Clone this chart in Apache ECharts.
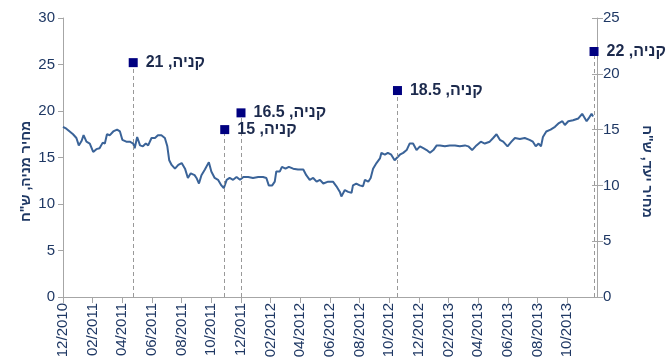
<!DOCTYPE html>
<html>
<head>
<meta charset="utf-8">
<script src="https://cdn.jsdelivr.net/npm/echarts@6/dist/echarts.min.js"></script>
<style>
html,body{margin:0;padding:0;background:#fff;}
#chart{width:672px;height:361px;}
</style>
</head>
<body>
<div id="chart" dir="rtl"></div>
<script>
// ---- data ----
const tickLabels = ['12/2010','02/2011','04/2011','06/2011','08/2011','10/2011','12/2011','02/2012','04/2012','06/2012','08/2012','10/2012','12/2012','02/2013','04/2013','06/2013','08/2013','10/2013'];

const priceDates = [
'2010-12-01','2010-12-08','2010-12-15','2010-12-22','2010-12-29',
'2011-01-03','2011-01-09','2011-01-13','2011-01-19','2011-01-26',
'2011-02-02','2011-02-08','2011-02-14','2011-02-20','2011-02-24','2011-02-28',
'2011-03-06','2011-03-13','2011-03-21','2011-03-27',
'2011-04-01','2011-04-09','2011-04-16','2011-04-23','2011-04-26',
'2011-05-01','2011-05-07','2011-05-13','2011-05-19','2011-05-24','2011-05-31',
'2011-06-07','2011-06-13','2011-06-20','2011-06-27',
'2011-07-02','2011-07-06','2011-07-11','2011-07-18','2011-07-25',
'2011-08-01','2011-08-08','2011-08-14','2011-08-20','2011-08-24','2011-08-28',
'2011-09-01','2011-09-04','2011-09-06','2011-09-11','2011-09-18','2011-09-26',
'2011-10-01','2011-10-08','2011-10-15','2011-10-22','2011-10-27',
'2011-11-02','2011-11-08','2011-11-15','2011-11-22','2011-11-29',
'2011-12-06','2011-12-16','2011-12-26',
'2012-01-06','2012-01-16','2012-01-23','2012-01-28',
'2012-02-04','2012-02-09','2012-02-12','2012-02-19','2012-02-23',
'2012-03-01','2012-03-08','2012-03-17','2012-03-27',
'2012-04-07','2012-04-13','2012-04-20','2012-04-27',
'2012-05-04','2012-05-11','2012-05-18','2012-05-28',
'2012-06-07','2012-06-14','2012-06-21','2012-06-24',
'2012-07-01','2012-07-08','2012-07-15','2012-07-18','2012-07-25',
'2012-08-01','2012-08-08','2012-08-12','2012-08-19','2012-08-24','2012-08-29',
'2012-09-05','2012-09-12','2012-09-15','2012-09-22','2012-09-28',
'2012-10-05','2012-10-12','2012-10-16','2012-10-23','2012-10-30',
'2012-11-06','2012-11-12','2012-11-19','2012-11-26',
'2012-12-03','2012-12-10','2012-12-17','2012-12-24','2012-12-31',
'2013-01-07','2013-01-14','2013-01-24',
'2013-02-03','2013-02-13','2013-02-22',
'2013-03-04','2013-03-11','2013-03-19','2013-03-28',
'2013-04-06','2013-04-14','2013-04-24',
'2013-05-01','2013-05-08','2013-05-15','2013-05-22','2013-05-31',
'2013-06-08','2013-06-15','2013-06-25',
'2013-07-05','2013-07-15','2013-07-22','2013-07-28',
'2013-08-03','2013-08-08','2013-08-12','2013-08-19','2013-08-28',
'2013-09-06','2013-09-14','2013-09-21','2013-09-26',
'2013-10-03','2013-10-13','2013-10-24',
'2013-11-01','2013-11-05','2013-11-10','2013-11-14','2013-11-20','2013-11-23'
];
const priceValues = [
18.3,18.1,17.8,17.5,17.1,
16.3,16.8,17.4,16.7,16.5,
15.6,15.9,16.0,16.6,16.5,17.5,
17.4,17.8,18.0,17.8,
16.9,16.7,16.7,16.5,16.0,
17.2,16.3,16.2,16.5,16.3,17.1,
17.1,17.4,17.4,17.1,
16.2,14.7,14.2,13.8,14.2,
14.4,13.8,12.8,13.3,13.1,13.1,
12.8,12.6,12.2,13.1,13.7,14.5,
13.5,12.8,12.6,12.0,11.7,
12.6,12.8,12.6,12.9,12.6,
12.9,12.9,12.8,
12.9,12.9,12.8,12.0,
12.0,12.4,13.5,13.5,14.0,
13.8,14.0,13.8,13.7,
13.7,13.1,12.6,12.8,
12.4,12.6,12.2,12.4,
12.4,11.9,11.3,10.8,
11.5,11.3,11.2,12.0,12.2,
12.0,11.9,12.6,12.4,12.8,13.8,
14.4,14.9,15.5,15.3,15.5,
15.3,14.7,14.5,15.3,15.5,
15.8,16.5,16.5,15.8,
16.2,16.0,15.8,15.5,15.8,
16.3,16.3,16.2,
16.3,16.3,16.2,
16.3,16.2,15.8,16.3,
16.7,16.5,16.7,
17.1,17.5,16.9,16.7,16.2,
16.7,17.1,17.0,
17.1,16.9,16.7,16.2,
16.5,16.2,17.2,17.8,18.0,
18.3,18.7,18.9,18.5,
18.9,19.0,19.2,
19.7,19.6,18.9,19.2,19.7,19.4
];

const buyDates = ['2011-04-23','2011-10-29','2011-12-01','2012-10-18','2013-11-25'];
const buyTargets = [21, 15, 16.5, 18.5, 22];
const buyWord = 'קניה';

const leftTitle = 'מחיר מניה, ש"ח';
const rightTitle = 'מחיר יעד, ש"ח';

// month index since 12/2010
function monthIndex(d){
  const p = d.split('-').map(Number);
  const dim = new Date(p[0], p[1], 0).getDate();
  return (p[0]-2010)*12 + (p[1]-12) + (p[2]-1)/dim;
}

const textColor = '#1f3864';
const axisGray = '#a6a6a6';
const font = 'Liberation Sans, Arial, sans-serif';

const chart = echarts.init(document.getElementById('chart'), null, {renderer:'canvas'});
chart.setOption({
  animation:false,
  grid:{left:63, right:75, top:18, bottom:64},
  xAxis:{
    type:'value', min:0, max:36, interval:2,
    axisLine:{lineStyle:{color:axisGray}},
    axisTick:{show:true, length:6, lineStyle:{color:axisGray}},
    splitLine:{show:false},
    axisLabel:{rotate:90, margin:6, color:textColor, fontFamily:font, fontSize:15,
      showMaxLabel:false,
      formatter:function(v){ return tickLabels[Math.round(v/2)] || ''; }}
  },
  yAxis:[
    {type:'value', position:'left', min:0, max:30, interval:5,
     axisLine:{show:true, lineStyle:{color:axisGray}},
     axisTick:{show:true, length:5, lineStyle:{color:axisGray}},
     splitLine:{show:false},
     axisLabel:{color:textColor, fontFamily:font, fontSize:15, margin:8},
     name:leftTitle, nameLocation:'middle', nameRotate:90, nameGap:30, nameMoveOverlap:false,
     nameTextStyle:{color:textColor, fontFamily:font, fontSize:14, fontWeight:'bold', padding:[0,28,0,0]}},
    {type:'value', position:'right', min:0, max:25, interval:5,
     axisLine:{show:true, lineStyle:{color:axisGray}},
     axisTick:{show:true, length:6, lineStyle:{color:axisGray}},
     splitLine:{show:false},
     axisLabel:{color:textColor, fontFamily:font, fontSize:15, margin:6},
     name:rightTitle, nameLocation:'middle', nameRotate:-90, nameGap:43, nameMoveOverlap:false,
     nameTextStyle:{color:textColor, fontFamily:font, fontSize:14, fontWeight:'bold', padding:[0,0,0,28]}},
    {type:'value', position:'right', min:0, max:25, interval:5,
     axisLine:{show:false}, axisLabel:{show:false}, splitLine:{show:false},
     axisTick:{show:true, inside:true, length:5, lineStyle:{color:axisGray}}}
  ],
  series:[
    {type:'line', yAxisIndex:0, showSymbol:false, symbol:'none',
     lineStyle:{color:'#3a6398', width:2},
     data: priceDates.map((d,i)=>[monthIndex(d), priceValues[i]])},
    {type:'scatter', yAxisIndex:1, symbol:'rect', symbolSize:9, z:5,
     itemStyle:{color:'#000080', opacity:1},
     label:{show:true, position:'right', distance:8, color:'#1c2a4d', fontFamily:font, fontSize:16, fontWeight:'bold',
       formatter:function(p){ return buyWord + ', ' + buyTargets[p.dataIndex]; }},
     markLine:{silent:true, symbol:'none', label:{show:false},
       lineStyle:{type:[4,3], color:'#999999', width:1},
       data: buyDates.map((d,i)=>[{coord:[monthIndex(d),0]},{coord:[monthIndex(d),buyTargets[i]]}])},
     data: buyDates.map((d,i)=>[monthIndex(d), buyTargets[i]])}
  ]
});
</script>
</body>
</html>
